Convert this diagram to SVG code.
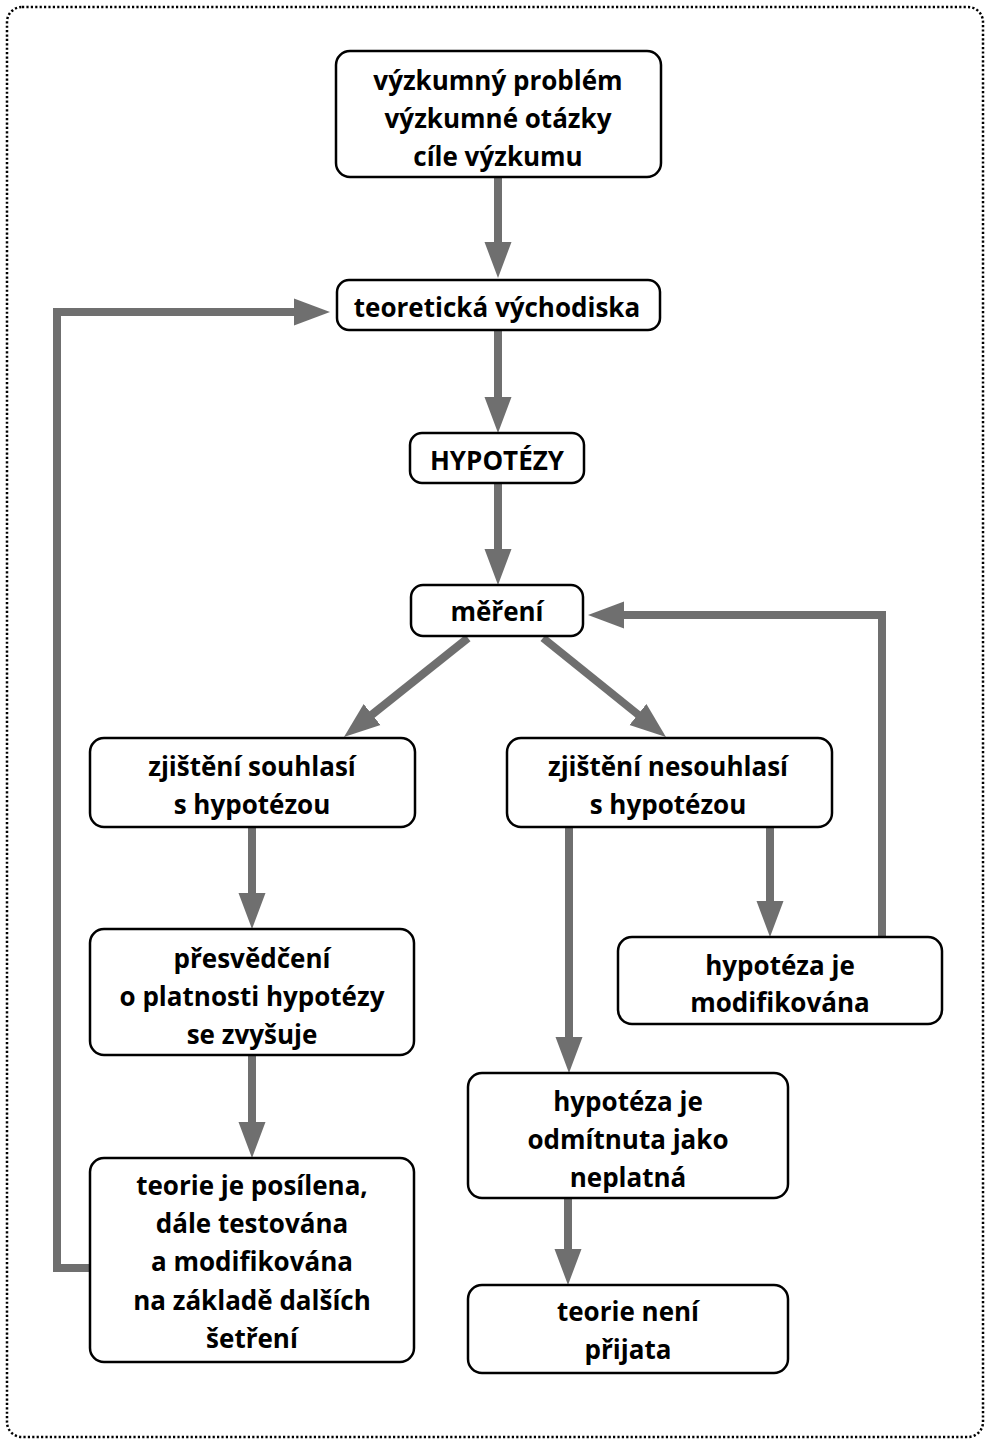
<svg xmlns="http://www.w3.org/2000/svg" width="989" height="1444" viewBox="0 0 989 1444">
  <style>
    .box { fill: #ffffff; stroke: #000000; stroke-width: 2.5; }
    .lbl { font-family: "Open Sans", "Noto Sans", "DejaVu Sans", sans-serif; font-weight: bold; font-size: 26px; fill: #000000; text-anchor: middle; }
    .conn { fill: none; stroke: #6f6f6f; stroke-width: 8; stroke-linejoin: miter; }
    .frame { fill: none; stroke: #000000; stroke-width: 2.5; stroke-dasharray: 2.2 2.2; }
  </style>
  <defs>
    <marker id="head" markerUnits="userSpaceOnUse" markerWidth="36" markerHeight="28" refX="16" refY="14" orient="auto">
      <path d="M0,0.5 L36,14 L0,27.5 z" fill="#6f6f6f"/>
    </marker>
  </defs>

  <!-- dotted outer frame -->
  <rect class="frame" x="7" y="7" width="976" height="1430" rx="15"/>

  <!-- connectors -->
  <g id="connectors">
    <path class="conn" d="M498,177 V258" marker-end="url(#head)"/>
    <path class="conn" d="M498,330 V413" marker-end="url(#head)"/>
    <path class="conn" d="M498,483 V565" marker-end="url(#head)"/>
    <path class="conn" d="M468,638 L359.6,724.5" marker-end="url(#head)"/>
    <path class="conn" d="M543,638 L650.4,724.5" marker-end="url(#head)"/>
    <path class="conn" d="M252,827 V909" marker-end="url(#head)"/>
    <path class="conn" d="M252,1055 V1138" marker-end="url(#head)"/>
    <path class="conn" d="M90,1268 H57 V312 H310" marker-end="url(#head)"/>
    <path class="conn" d="M569,827 V1053" marker-end="url(#head)"/>
    <path class="conn" d="M770,827 V917" marker-end="url(#head)"/>
    <path class="conn" d="M882,937 V615 H608" marker-end="url(#head)"/>
    <path class="conn" d="M568,1198 V1265" marker-end="url(#head)"/>
  </g>

  <g id="problem">
    <rect class="box" x="336" y="51" width="325" height="126" rx="14"/>
    <text class="lbl" x="498" y="90">výzkumný problém</text>
    <text class="lbl" x="498" y="128">výzkumné otázky</text>
    <text class="lbl" x="498" y="166">cíle výzkumu</text>
  </g>

  <g id="teorie-vychodiska">
    <rect class="box" x="337" y="280" width="323" height="50" rx="12"/>
    <text class="lbl" x="497" y="317">teoretická východiska</text>
  </g>

  <g id="hypotezy">
    <rect class="box" x="410" y="433" width="174" height="50" rx="12"/>
    <text class="lbl" x="497" y="470">HYPOTÉZY</text>
  </g>

  <g id="mereni">
    <rect class="box" x="411" y="585" width="172" height="51" rx="12"/>
    <text class="lbl" x="497" y="621">měření</text>
  </g>

  <g id="souhlas">
    <rect class="box" x="90" y="738" width="325" height="89" rx="14"/>
    <text class="lbl" x="252" y="776">zjištění souhlasí</text>
    <text class="lbl" x="252" y="814">s hypotézou</text>
  </g>

  <g id="nesouhlas">
    <rect class="box" x="507" y="738" width="325" height="89" rx="14"/>
    <text class="lbl" x="668" y="776">zjištění nesouhlasí</text>
    <text class="lbl" x="668" y="814">s hypotézou</text>
  </g>

  <g id="presvedceni">
    <rect class="box" x="90" y="929" width="324" height="126" rx="14"/>
    <text class="lbl" x="252" y="968">přesvědčení</text>
    <text class="lbl" x="252" y="1006">o platnosti hypotézy</text>
    <text class="lbl" x="252" y="1044">se zvyšuje</text>
  </g>

  <g id="modifikovana">
    <rect class="box" x="618" y="937" width="324" height="87" rx="14"/>
    <text class="lbl" x="780" y="975">hypotéza je</text>
    <text class="lbl" x="780" y="1012">modifikována</text>
  </g>

  <g id="odmitnuta">
    <rect class="box" x="468" y="1073" width="320" height="125" rx="14"/>
    <text class="lbl" x="628" y="1111">hypotéza je</text>
    <text class="lbl" x="628" y="1149">odmítnuta jako</text>
    <text class="lbl" x="628" y="1187">neplatná</text>
  </g>

  <g id="posilena">
    <rect class="box" x="90" y="1158" width="324" height="204" rx="14"/>
    <text class="lbl" x="252" y="1195">teorie je posílena,</text>
    <text class="lbl" x="252" y="1233">dále testována</text>
    <text class="lbl" x="252" y="1271">a modifikována</text>
    <text class="lbl" x="252" y="1310">na základě dalších</text>
    <text class="lbl" x="252" y="1348">šetření</text>
  </g>

  <g id="neprijata">
    <rect class="box" x="468" y="1285" width="320" height="88" rx="14"/>
    <text class="lbl" x="628" y="1321">teorie není</text>
    <text class="lbl" x="628" y="1359">přijata</text>
  </g>
</svg>
